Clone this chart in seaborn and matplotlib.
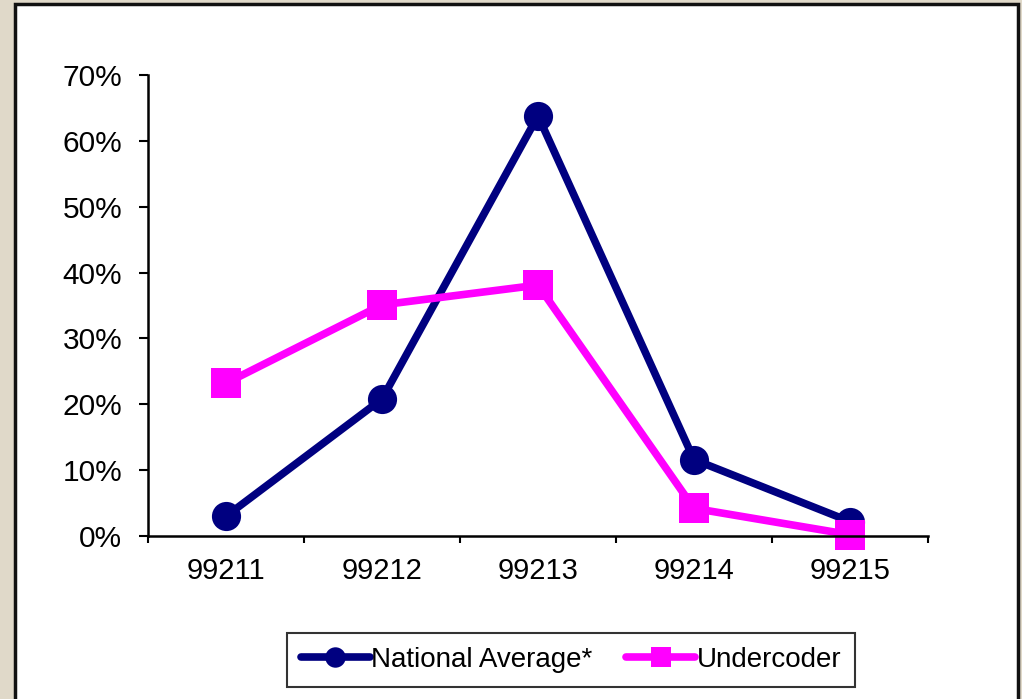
import pandas as pd
import matplotlib.pyplot as plt
import seaborn as sns
from matplotlib.patches import Rectangle
from matplotlib.ticker import PercentFormatter

# -------------------------------
# Data
# -------------------------------
codes = ["99211", "99212", "99213", "99214", "99215"]
national_avg = [3.0, 20.8, 63.8, 11.6, 2.2]
undercoder = [23.2, 35.1, 38.1, 4.2, 0.2]
series_names = ["National Average*", "Undercoder"]

df = pd.DataFrame({
    "code": codes * 2,
    "pct": national_avg + undercoder,
    "series": [series_names[0]] * len(codes) + [series_names[1]] * len(codes),
})

sns.set_theme(style="white")
plt.rcParams["font.family"] = ["Liberation Sans", "DejaVu Sans"]

fig = plt.figure(figsize=(10.22, 6.99), dpi=100)
fig.patch.set_facecolor("#e0d9c9")

# white panel with black frame
panel = Rectangle((15 / 1022, -0.02), 1003 / 1022, 1.02 - 4 / 699,
                  transform=fig.transFigure, facecolor="white",
                  edgecolor="#111111", linewidth=2.5, zorder=-5)
fig.patches.append(panel)

ax = fig.add_axes([148 / 1022, 163 / 699, 780 / 1022, 461 / 699])
ax.set_facecolor("none")

sns.lineplot(data=df, x="code", y="pct", hue="series", style="series",
             palette={series_names[0]: "#000080", series_names[1]: "#ff00ff"},
             markers={series_names[0]: "o", series_names[1]: "s"},
             dashes=False, linewidth=5.5, markersize=21, markeredgewidth=0,
             sort=False, ax=ax, legend=True, clip_on=False)

ax.set_xlim(-0.5, 4.5)
ax.set_ylim(0, 70)
ax.set_yticks(range(0, 71, 10))
ax.yaxis.set_major_formatter(PercentFormatter(decimals=0))
ax.set_xticks(range(len(codes)))
ax.set_xticklabels(codes)
ax.set_xticks([i - 0.5 for i in range(len(codes) + 1)], minor=True)
ax.tick_params(axis="x", which="major", length=0, pad=15, labelsize=21, colors="black")
ax.tick_params(axis="x", which="minor", length=5, width=1.5, direction="out", color="black", bottom=True)
ax.tick_params(axis="y", length=6.5, width=1.5, direction="out", pad=12, labelsize=21.5, colors="black", left=True)
ax.set_xlabel("")
ax.set_ylabel("")

for side in ["top", "right"]:
    ax.spines[side].set_visible(False)
for side in ["left", "bottom"]:
    ax.spines[side].set_color("black")
    ax.spines[side].set_linewidth(1.8)

ax.get_legend().remove()
handles, labels = ax.get_legend_handles_labels()
leg = fig.legend(handles, labels, loc="center", bbox_to_anchor=(571 / 1022, 39 / 699),
                 ncol=2, fontsize=20, frameon=True, fancybox=False,
                 handlelength=2.5, handletextpad=0.05, columnspacing=1.2,
                 borderpad=0.5, borderaxespad=0, markerscale=0.7)
leg.get_frame().set_edgecolor("black")
leg.get_frame().set_linewidth(1.5)
for t in leg.get_texts():
    t.set_color("black")

plt.savefig("out.png", dpi=100, facecolor=fig.get_facecolor())
